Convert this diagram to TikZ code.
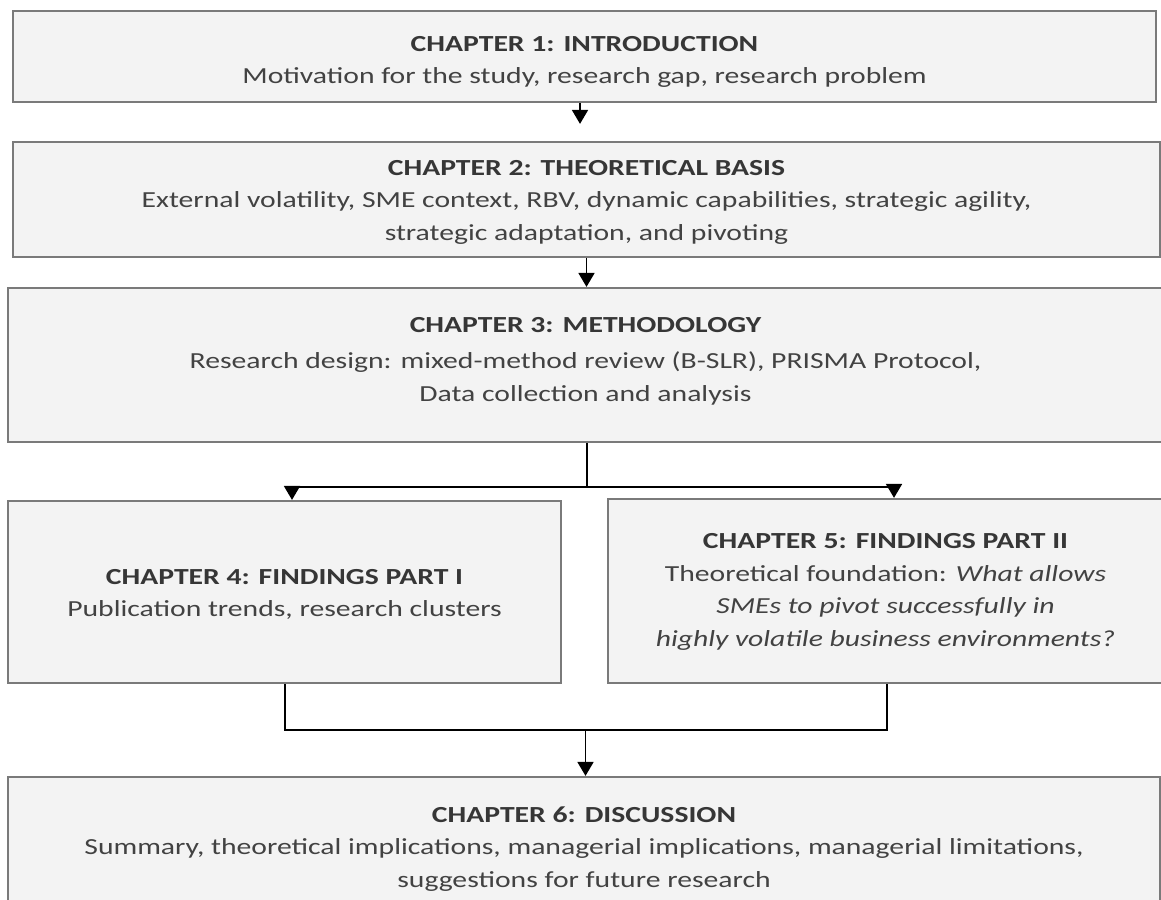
\documentclass[tikz,border=0pt]{standalone}
\usepackage{fontspec}
\setmainfont{Carlito}[FakeStretch=1.29]
\usetikzlibrary{arrows.meta}
\definecolor{boxfill}{HTML}{F3F3F3}
\definecolor{boxline}{HTML}{7A7A7A}
\definecolor{titletext}{HTML}{363636}
\definecolor{bodytext}{HTML}{424242}
\newcommand{\chaptitle}[1]{\textbf{\color{titletext}#1}}
\begin{document}
\begin{tikzpicture}[x=1pt,y=-1pt,
  chapter/.style={draw=boxline, line width=2.2pt, fill=boxfill, inner sep=0pt},
  chaptext/.style={align=center, inner sep=0pt, font=\fontsize{23}{32.5}\selectfont, text=bodytext},
  link/.style={line width=1.8pt, draw=black},
  tip/.style={-{Triangle[width=16pt,length=14pt]}}
]
\useasboundingbox (0,0) rectangle (1161,899);
\clip (0,0) rectangle (1161,899);

% chapter boxes
\node[chapter, minimum width=1143pt, minimum height=91pt] (c1) at (584.5,56.5) {};
\node[chapter, minimum width=1147pt, minimum height=115pt] (c2) at (586.5,199.5) {};
\node[chapter, minimum width=1155pt, minimum height=154pt] (c3) at (585.5,365) {};
\node[chapter, minimum width=553pt, minimum height=182pt] (c4) at (284.5,592) {};
\node[chapter, minimum width=555pt, minimum height=184pt] (c5) at (885.5,591) {};
\node[chapter, minimum width=1152pt, minimum height=138pt] (c6) at (584,846) {};

% chapter texts
\node[chaptext] (t1) at (584.5,62)
  {\chaptitle{CHAPTER 1: INTRODUCTION}\\
   Motivation for the study, research gap, research problem};
\node[chaptext] (t2) at (586.5,202)
  {\chaptitle{CHAPTER 2: THEORETICAL BASIS}\\
   External volatility, SME context, RBV, dynamic capabilities, strategic agility,\\
   strategic adaptation, and pivoting};
\node[chaptext] (t3) at (585.5,361)
  {\chaptitle{CHAPTER 3: METHODOLOGY}\\[4pt]
   Research design: mixed-method review (B-SLR), PRISMA Protocol,\\
   Data collection and analysis};
\node[chaptext] (t4) at (284.5,594.5)
  {\chaptitle{CHAPTER 4: FINDINGS PART I}\\
   Publication trends, research clusters};
\node[chaptext] (t5) at (885.5,592)
  {\chaptitle{CHAPTER 5: FINDINGS PART II}\\
   Theoretical foundation: \textit{What allows}\\
   \textit{SMEs to pivot successfully in}\\
   \textit{highly volatile business environments?}};
\node[chaptext] (t6) at (584,849)
  {\chaptitle{CHAPTER 6: DISCUSSION}\\
   Summary, theoretical implications, managerial implications, managerial limitations,\\
   suggestions for future research};

% connectors
\coordinate (split) at (587,487);
\coordinate (merge) at (585.5,730);

\draw[link,tip,shorten >=17pt] ([xshift=-4.5pt]c1.south) -- ([xshift=-4.5pt]c1.south |- c2.north);
\draw[link,tip] (c2.south) -- (c2.south |- c3.north);

\draw[link] ([xshift=1.5pt]c3.south) -- (split);
\draw[link,tip] (split) -| ([xshift=7.5pt]c4.north);
\draw[link,tip] (split) -| ([xshift=8.5pt]c5.north);

\draw[link] ([xshift=0.5pt]c4.south) |- (merge);
\draw[link] ([xshift=1.5pt]c5.south) |- (merge);
\draw[link,tip] (merge) -- (merge |- c6.north);
\end{tikzpicture}
\end{document}
